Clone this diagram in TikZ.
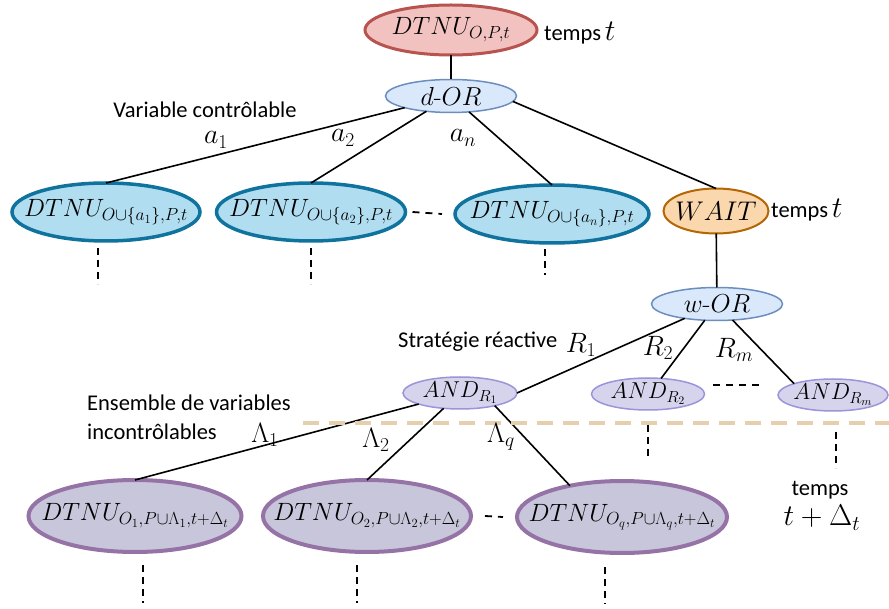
\RequirePackage{fix-cm}
\documentclass[tikz,border=0pt]{standalone}
\usepackage{amsmath}
\usepackage{fontspec}
\newfontfamily\sansf{Carlito}
\usetikzlibrary{shapes.geometric}
\definecolor{redF}{HTML}{F2C2C0}
\definecolor{redD}{HTML}{B85450}
\definecolor{orF}{HTML}{DAE8FC}
\definecolor{orD}{HTML}{6C8EBF}
\definecolor{blF}{HTML}{B1DDF0}
\definecolor{blD}{HTML}{10739E}
\definecolor{waF}{HTML}{FAD7AC}
\definecolor{waD}{HTML}{B46504}
\definecolor{anF}{HTML}{D6D4EC}
\definecolor{anD}{HTML}{9A94D8}
\definecolor{puF}{HTML}{C8C6DA}
\definecolor{puD}{HTML}{9673A6}
\definecolor{tanL}{HTML}{E6CFAE}
\newcommand\mfs[1]{\fontsize{#1}{#1}\selectfont}
\newcommand\zb[1]{\makebox[0pt]{$#1$}}
\begin{document}
\begin{tikzpicture}[x=1pt,y=-1pt,
  ell/.style={ellipse, inner sep=0pt, outer sep=0pt, font=\mfs{25}},
  topnode/.style={ell, fill=redF, draw=redD, line width=3pt, minimum width=172pt, minimum height=50pt},
  ornode/.style={ell, fill=orF, draw=orD, line width=1.5pt, minimum width=131pt, minimum height=33pt, font=\mfs{26}},
  bluenode/.style={ell, fill=blF, draw=blD, line width=3.5pt, minimum height=58pt},
  waitnode/.style={ell, fill=waF, draw=waD, line width=2pt, minimum width=105pt, minimum height=45pt, font=\mfs{27}},
  andnode/.style={ell, fill=anF, draw=anD, line width=1.5pt, minimum height=32pt, font=\mfs{23}},
  purnode/.style={ell, fill=puF, draw=puD, line width=4pt, minimum height=72pt},
  edge/.style={line width=1.6pt},
  vdots/.style={line width=1.8pt, dash pattern=on 7pt off 5pt},
  hdots/.style={line width=1.8pt, dash pattern=on 7pt off 6pt},
  lbl/.style={inner sep=0pt, font=\mfs{28}},
  stxt/.style={inner sep=0pt, font=\sansf\mfs{22.5}, align=left}
]
\useasboundingbox (0,0) rectangle (889,609);

% nodes
\node[topnode] (top) at (451,30) {\zb{DTNU_{O,P,t}}};
\node[ornode] (dor) at (451,96) {\zb{d\text{-}OR}};
\node[bluenode, minimum width=188pt] (c1) at (106,212) {\zb{DTNU_{O\cup\{a_1\},P,t}}};
\node[bluenode, minimum width=189pt] (c2) at (311,212) {\zb{DTNU_{O\cup\{a_2\},P,t}}};
\node[bluenode, minimum width=194pt] (cn) at (552,214) {\zb{DTNU_{O\cup\{a_n\},P,t}}};
\node[waitnode] (wait) at (716,211) {\zb{WAIT}};
\node[ornode] (wor) at (717,304) {\zb{w\text{-}OR}};
\node[andnode, minimum width=114pt] (and1) at (460,393) {\zb{AND_{R_1}}};
\node[andnode, minimum width=113pt] (and2) at (648,394) {\zb{AND_{R_2}}};
\node[andnode, minimum width=110pt] (andm) at (833,395) {\zb{AND_{R_m}}};
\node[purnode, minimum width=213pt] (b1) at (135,516) {\zb{DTNU_{O_1,P\cup\Lambda_1,t+\Delta_t}}};
\node[purnode, minimum width=208pt] (b2) at (367,516) {\zb{DTNU_{O_2,P\cup\Lambda_2,t+\Delta_t}}};
\node[purnode, minimum width=210pt] (b3) at (622,517) {\zb{DTNU_{O_q,P\cup\Lambda_q,t+\Delta_t}}};

% connectors
\draw[edge] (top) -- (dor);
\draw[edge] (dor) -- (c1.north);
\draw[edge] (dor) -- (c2.north);
\draw[edge] (dor) -- (cn.north);
\draw[edge] (dor.-5) -- (wait.north);
\draw[edge] (wait) -- (wor);
\draw[edge] (wor) -- (and1.east);
\draw[edge] (wor) -- (and2.50);
\draw[edge] (wor) -- (andm.north west);
\draw[edge] (and1) -- (b1.north);
\draw[edge] (and1) -- (b2.north);
\draw[edge] (and1.-20) -- (b3.149);

% temporal separator
\draw[tanL, line width=4pt, dash pattern=on 16pt off 10pt] (303,423) -- (889,423);

% ellipsis marks
\draw[hdots] ([xshift=7pt]c2.east) -- ([xshift=-13pt]cn.west);
\draw[hdots] (713,385) -- (760,385);
\draw[hdots] ([xshift=14pt]b2.east) -- ([xshift=-14pt]b3.west);
\draw[vdots] (98,248) -- (98,284);
\draw[vdots] (311,248) -- (311,284);
\draw[vdots] (545,249) -- (545,275);
\draw[vdots] (648,425) -- (648,460);
\draw[vdots] (836,432) -- (836,468);
\draw[vdots] (143,565) -- (143,603);
\draw[vdots] (357,565) -- (357,603);
\draw[vdots] (605,567) -- (605,604);

% labels
\node[stxt, anchor=west] (t1) at (544,33) {temps\,{\mfs{30}$t$}};
\node[stxt, anchor=west] (t2) at (771,210) {temps\,{\mfs{30}$t$}};
\node[stxt] (vc) at (205,110) {Variable contrôlable};
\node[lbl] (la1) at (216,140) {$a_1$};
\node[lbl] (la2) at (343,138) {$a_2$};
\node[lbl] (lan) at (463,138) {$a_n$};
\node[stxt, anchor=west] (sr) at (398,342) {Stratégie réactive};
\node[lbl] (lr1) at (581,345) {$R_1$};
\node[lbl] (lr2) at (658,348) {$R_2$};
\node[lbl] (lrm) at (734,350) {$R_m$};
\node[stxt, anchor=west] (ev1) at (87,403) {Ensemble de variables};
\node[stxt, anchor=west] (ev2) at (87,432) {incontrôlables};
\node[lbl] (ll1) at (265,435) {$\Lambda_1$};
\node[lbl] (ll2) at (376,440) {$\Lambda_2$};
\node[lbl] (llq) at (501,437) {$\Lambda_q$};
\node[stxt] (tp) at (820,490) {temps};
\node[lbl, font=\mfs{30}] (tdt) at (822,518) {$t+\Delta_t$};
\end{tikzpicture}
\end{document}
